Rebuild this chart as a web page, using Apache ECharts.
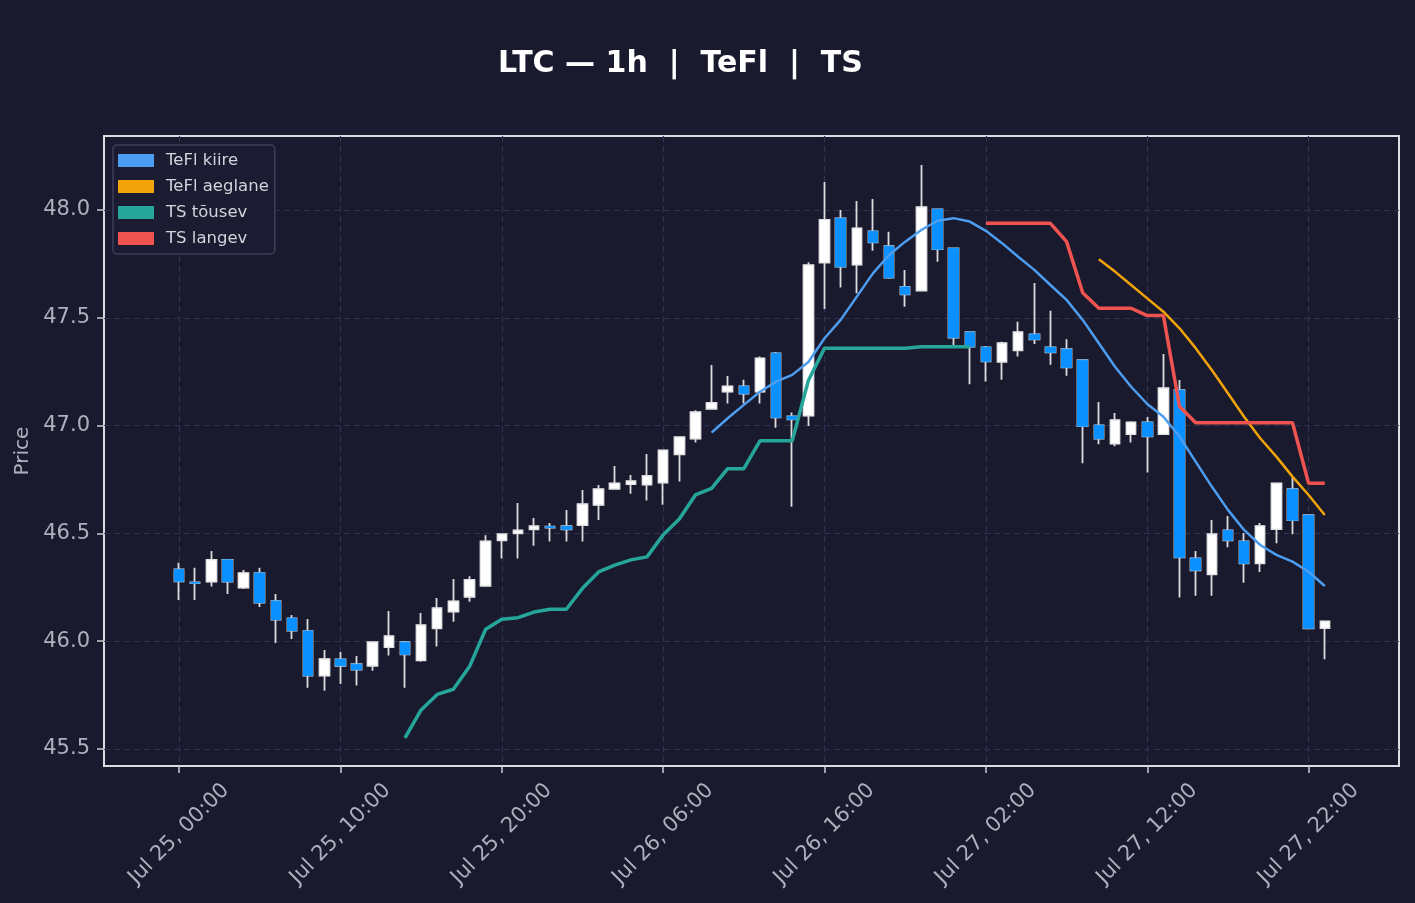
<!DOCTYPE html>
<html>
<head>
<meta charset="utf-8">
<title>LTC 1h</title>
<script src="https://cdn.jsdelivr.net/npm/echarts@6/dist/echarts.min.js"></script>
<style>
  html, body { margin: 0; padding: 0; background: #1a1a2e; }
  #chart { width: 1415px; height: 903px; }
</style>
</head>
<body>
<div id="chart"></div>
<script>
// hourly candles, Jul 25 00:00 .. Jul 27 23:00 (index = hours since start)
const tickLabels = ["Jul 25, 00:00", "Jul 25, 10:00", "Jul 25, 20:00", "Jul 26, 06:00",
  "Jul 26, 16:00", "Jul 27, 02:00", "Jul 27, 12:00", "Jul 27, 22:00"];

const opens = [46.333, 46.273, 46.276, 46.377, 46.248, 46.316, 46.186, 46.106, 46.047, 45.840,
  45.916, 45.893, 45.886, 45.972, 45.995, 45.911, 46.060, 46.137, 46.206, 46.257,
  46.468, 46.500, 46.519, 46.531, 46.533, 46.538, 46.632, 46.707, 46.728, 46.726,
  46.735, 46.867, 46.939, 47.078, 47.157, 47.182, 47.157, 47.335, 47.043, 47.046,
  47.756, 47.961, 47.746, 47.901, 47.832, 47.643, 47.626, 48.003, 47.822, 47.433,
  47.363, 47.296, 47.349, 47.423, 47.363, 47.354, 47.303, 47.001, 46.916, 46.960,
  47.015, 46.960, 47.164, 46.384, 46.310, 46.514, 46.463, 46.361, 46.520, 46.705,
  46.584, 46.061];
const closes = [46.278, 46.269, 46.377, 46.276, 46.316, 46.179, 46.100, 46.049, 45.840, 45.917,
  45.886, 45.868, 45.995, 46.023, 45.939, 46.074, 46.153, 46.185, 46.284, 46.463,
  46.496, 46.514, 46.533, 46.527, 46.519, 46.635, 46.705, 46.732, 46.742, 46.766,
  46.885, 46.946, 47.062, 47.105, 47.182, 47.148, 47.312, 47.038, 47.029, 47.744,
  47.954, 47.737, 47.915, 47.850, 47.686, 47.609, 48.013, 47.818, 47.408, 47.366,
  47.298, 47.382, 47.433, 47.400, 47.340, 47.270, 46.997, 46.939, 47.025, 47.015,
  46.950, 47.173, 46.389, 46.329, 46.496, 46.468, 46.361, 46.534, 46.732, 46.561,
  46.060, 46.092];
const lows = [46.191, 46.191, 46.253, 46.219, 46.242, 46.159, 45.992, 46.010, 45.784, 45.770,
  45.801, 45.794, 45.863, 45.933, 45.784, 45.905, 45.975, 46.090, 46.183, 46.253,
  46.383, 46.383, 46.443, 46.462, 46.462, 46.462, 46.562, 46.703, 46.684, 46.652,
  46.633, 46.740, 46.921, 47.076, 47.102, 47.102, 47.102, 46.990, 46.624, 46.998,
  47.541, 47.640, 47.614, 47.811, 47.681, 47.551, 47.626, 47.760, 47.366, 47.192,
  47.204, 47.212, 47.320, 47.378, 47.282, 47.231, 46.825, 46.913, 46.904, 46.921,
  46.782, 46.960, 46.202, 46.211, 46.211, 46.436, 46.271, 46.321, 46.454, 46.496,
  46.060, 45.916];
const highs = [46.364, 46.340, 46.418, 46.381, 46.330, 46.340, 46.219, 46.121, 46.103, 45.959,
  45.950, 45.931, 45.997, 46.140, 46.001, 46.131, 46.200, 46.288, 46.301, 46.491,
  46.498, 46.641, 46.571, 46.548, 46.608, 46.701, 46.724, 46.813, 46.771, 46.868,
  46.887, 46.948, 47.071, 47.281, 47.230, 47.212, 47.320, 47.341, 47.060, 47.757,
  48.130, 48.000, 48.042, 48.051, 47.899, 47.722, 48.209, 48.005, 47.824, 47.435,
  47.369, 47.389, 47.481, 47.661, 47.532, 47.400, 47.305, 47.109, 47.058, 47.020,
  47.040, 47.332, 47.211, 46.418, 46.562, 46.581, 46.502, 46.548, 46.734, 46.760,
  46.586, 46.094];

// indicator lines (first index where each one starts)
const kiireStart = 33;
const kiire = [46.967, 47.034, 47.096, 47.157, 47.204, 47.235, 47.295, 47.405, 47.490, 47.598,
  47.706, 47.791, 47.853, 47.907, 47.950, 47.962, 47.946, 47.903, 47.846, 47.783,
  47.722, 47.652, 47.583, 47.490, 47.382, 47.273, 47.180, 47.100, 47.041, 46.949,
  46.833, 46.717, 46.609, 46.516, 46.446, 46.400, 46.369, 46.322, 46.256];
const aeglaneStart = 57;
const aeglane = [47.771, 47.714, 47.652, 47.590, 47.528, 47.451, 47.359, 47.258, 47.150, 47.041,
  46.941, 46.856, 46.763, 46.678, 46.585];
const tousevStart = 14;
const tousev = [45.551, 45.681, 45.753, 45.777, 45.882, 46.055, 46.102, 46.109, 46.135, 46.148,
  46.148, 46.245, 46.321, 46.353, 46.377, 46.391, 46.493, 46.567, 46.678, 46.709,
  46.800, 46.800, 46.929, 46.929, 46.929, 47.209, 47.359, 47.359, 47.359, 47.359,
  47.359, 47.359, 47.366, 47.366, 47.366, 47.366];
const langevStart = 50;
const langev = [47.938, 47.938, 47.938, 47.938, 47.938, 47.853, 47.616, 47.544, 47.544, 47.544,
  47.510, 47.510, 47.088, 47.013, 47.013, 47.013, 47.013, 47.013, 47.013, 47.013,
  46.732, 46.732];

const yTicks = [45.5, 46.0, 46.5, 47.0, 47.5, 48.0];
const xTicks = tickLabels.map((_, i) => i * 10);

const labelColor = "#aeb0bd";
const gridColor = "#2f3150";
const fontFamily = "DejaVu Sans";

const wicks = opens.map((o, i) => [i, o, closes[i], lows[i], highs[i]]);
const bodies = opens.map((o, i) => [i, o, closes[i], Math.min(o, closes[i]), Math.max(o, closes[i])]);
const toLine = (vals, start) => vals.map((v, k) => [start + k, v]);

const chart = echarts.init(document.getElementById("chart"));
chart.setOption({
  backgroundColor: "#1a1a2e",
  animation: false,
  textStyle: { fontFamily },
  title: {
    text: "LTC — 1h  |  TeFl  |  TS",
    left: 493,
    top: 44,
    textStyle: { color: "#ffffff", fontSize: 30, fontWeight: "bold", fontFamily }
  },
  legend: {
    orient: "vertical",
    left: 113,
    top: 145,
    icon: "rect",
    itemWidth: 36,
    itemHeight: 13,
    itemGap: 9,
    padding: [7, 6, 7, 5],
    backgroundColor: "#1b1c31",
    borderColor: "#3c3e5c",
    borderWidth: 1.5,
    borderRadius: 4,
    data: ["TeFl kiire", "TeFl aeglane", "TS tõusev", "TS langev"],
    textStyle: { color: "#d2d3da", fontSize: 16.5, fontFamily, padding: [0, 0, 0, 7] }
  },
  grid: {
    left: 104, right: 16, top: 136, bottom: 137,
    show: true,
    borderColor: "#dcdce2",
    borderWidth: 2,
    backgroundColor: "transparent"
  },
  xAxis: {
    type: "value",
    min: -4.65,
    max: 75.6,
    axisLine: { show: false, onZero: false },
    axisTick: { show: true, customValues: xTicks, length: 7, lineStyle: { color: "#c9c9d0", width: 1.5 } },
    axisLabel: {
      customValues: xTicks,
      formatter: v => tickLabels[Math.round(v / 10)],
      rotate: 45,
      align: "center",
      verticalAlign: "middle",
      margin: 68,
      color: labelColor,
      fontSize: 21,
      fontFamily
    },
    splitLine: { show: true, lineStyle: { color: gridColor, type: [6, 4], width: 1.2 } }
  },
  yAxis: {
    type: "value",
    min: 45.421,
    max: 48.343,
    name: "Price",
    nameLocation: "middle",
    nameGap: 66,
    nameTextStyle: { color: labelColor, fontSize: 20, fontFamily },
    axisLine: { show: false, onZero: false },
    axisTick: { show: true, customValues: yTicks, length: 7, lineStyle: { color: "#c9c9d0", width: 1.5 } },
    axisLabel: {
      customValues: yTicks,
      formatter: v => v.toFixed(1),
      margin: 14,
      color: labelColor,
      fontSize: 21,
      fontFamily
    },
    splitLine: { show: true, lineStyle: { color: gridColor, type: [6, 4], width: 1.2 } }
  },
  series: [
    {
      name: "wicks",
      type: "candlestick",
      data: wicks,
      encode: { x: 0, y: [1, 2, 3, 4] },
      barWidth: 10,
      itemStyle: {
        color: "#ffffff", color0: "#0a90ff",
        borderColor: "#dcdcdc", borderColor0: "#dcdcdc", borderWidth: 1.8
      },
      z: 2
    },
    {
      name: "bodies",
      type: "candlestick",
      data: bodies,
      encode: { x: 0, y: [1, 2, 3, 4] },
      barWidth: 10,
      itemStyle: {
        color: "#ffffff", color0: "#0a90ff",
        borderColor: "#e4e4e8", borderColor0: "#0a90ff", borderWidth: 1
      },
      z: 3
    },
    {
      name: "TeFl kiire", type: "line", data: toLine(kiire, kiireStart),
      showSymbol: false, color: "#4d9df0", lineStyle: { width: 2.5 }, z: 5
    },
    {
      name: "TeFl aeglane", type: "line", data: toLine(aeglane, aeglaneStart),
      showSymbol: false, color: "#f2a30a", lineStyle: { width: 2.5 }, z: 5
    },
    {
      name: "TS tõusev", type: "line", data: toLine(tousev, tousevStart),
      showSymbol: false, color: "#26a69a", lineStyle: { width: 3.5 }, z: 5
    },
    {
      name: "TS langev", type: "line", data: toLine(langev, langevStart),
      showSymbol: false, color: "#ef5350", lineStyle: { width: 3.5 }, z: 5
    }
  ]
});
</script>
</body>
</html>
